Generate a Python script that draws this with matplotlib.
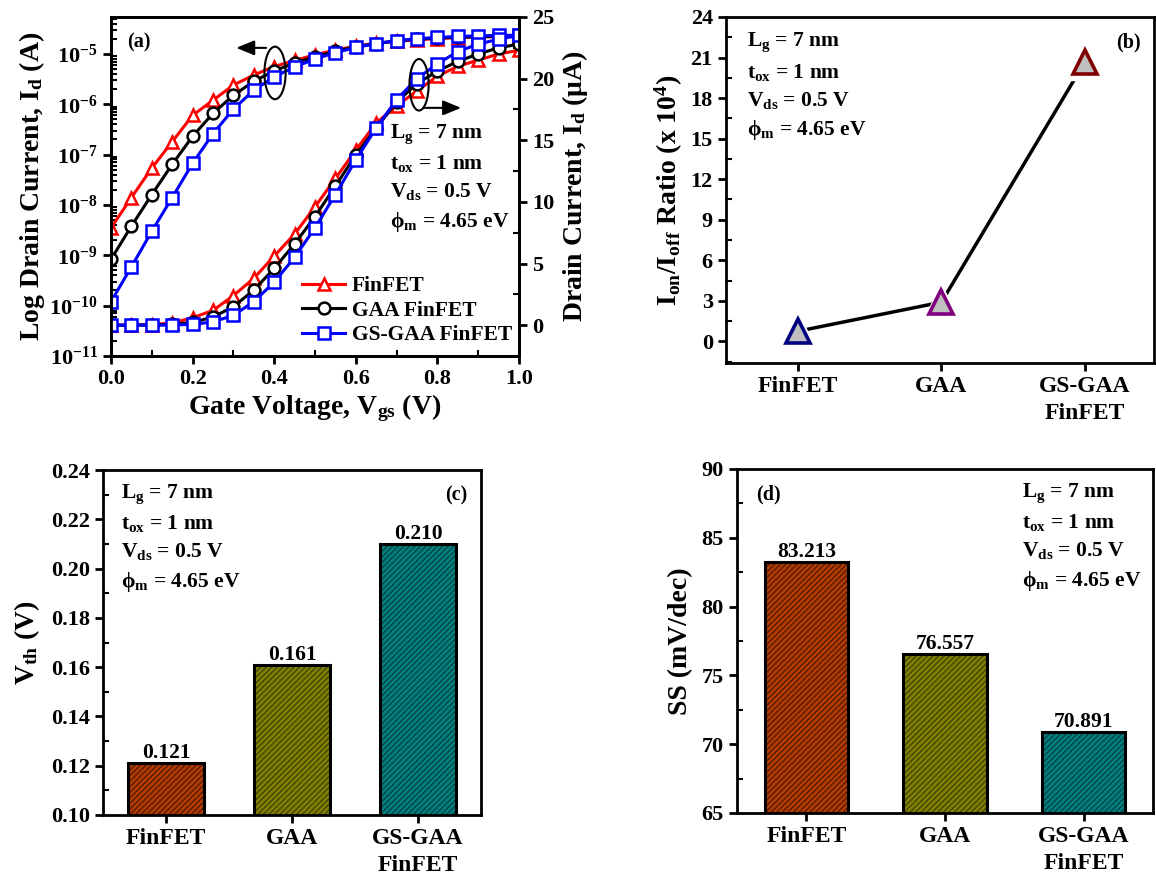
import numpy as np
import matplotlib
matplotlib.use("Agg")
import matplotlib.pyplot as plt
from matplotlib.patches import Ellipse
from matplotlib.ticker import MultipleLocator, LogLocator, NullFormatter, FormatStrFormatter

plt.rcParams['font.family'] = ['Liberation Serif', 'DejaVu Serif']
plt.rcParams['font.weight'] = 'bold'
plt.rcParams['axes.labelweight'] = 'bold'
plt.rcParams['mathtext.fontset'] = 'custom'
plt.rcParams['mathtext.rm'] = 'Liberation Serif:bold'
plt.rcParams['mathtext.bf'] = 'Liberation Serif:bold'
plt.rcParams['mathtext.it'] = 'Liberation Serif:bold:italic'
plt.rcParams['mathtext.default'] = 'regular'
plt.rcParams['hatch.linewidth'] = 0.9

# ---- data ----
vgs = [0.00, 0.05, 0.10, 0.15, 0.20, 0.25, 0.30, 0.35, 0.40, 0.45, 0.50,
       0.55, 0.60, 0.65, 0.70, 0.75, 0.80, 0.85, 0.90, 0.95, 1.00]
id_finfet = [3.5e-9, 1.4e-8, 5.4e-8, 1.8e-7, 6.0e-7, 1.2e-6, 2.4e-6, 3.8e-6, 5.6e-6, 7.4e-6, 9.6e-6,
             1.19e-5, 1.42e-5, 1.64e-5, 1.78e-5, 1.90e-5, 2.02e-5, 2.10e-5, 2.15e-5, 2.20e-5, 2.23e-5]
id_gaa = [8.3e-10, 3.8e-9, 1.6e-8, 6.4e-8, 2.3e-7, 6.6e-7, 1.5e-6, 2.85e-6, 4.6e-6, 6.6e-6, 8.8e-6,
          1.13e-5, 1.38e-5, 1.60e-5, 1.81e-5, 1.96e-5, 2.06e-5, 2.14e-5, 2.20e-5, 2.25e-5, 2.28e-5]
id_gsgaa = [1.2e-10, 5.9e-10, 3.0e-9, 1.4e-8, 6.7e-8, 2.6e-7, 8.0e-7, 1.9e-6, 3.5e-6, 5.5e-6, 7.9e-6,
            1.06e-5, 1.34e-5, 1.60e-5, 1.83e-5, 2.00e-5, 2.12e-5, 2.22e-5, 2.28e-5, 2.32e-5, 2.35e-5]

devices = ['FinFET', 'GAA', 'GS-GAA\nFinFET']
ion_ioff = [0.75, 2.9, 20.7]      # x 10^4
vth = [0.121, 0.161, 0.210]       # V
ss = [83.213, 76.557, 70.891]     # mV/dec

params = ('L$_{g}$ = 7 nm\nt$_{ox}$ = 1 nm\nV$_{ds}$ = 0.5 V\nϕ$_{m}$ = 4.65 eV')

fig = plt.figure(figsize=(11.56, 8.91), dpi=100)

def rect(l, t, r, b):
    return [l / 1156, 1 - b / 891, (r - l) / 1156, (b - t) / 891]

def style(ax):
    for s in ax.spines.values():
        s.set_linewidth(2)
    ax.tick_params(which='major', direction='out', length=6, width=2, labelsize=16)
    ax.tick_params(which='minor', direction='in', length=4, width=1.5)

# ---- (a) ----
ax = fig.add_axes(rect(111, 17, 519, 356))
ax2 = ax.twinx()
series = [(id_finfet, 'r', '^', 'FinFET'),
          (id_gaa, 'k', 'o', 'GAA FinFET'),
          (id_gsgaa, 'b', 's', 'GS-GAA FinFET')]
handles = []
for y, c, m, lab in series:
    h, = ax.plot(vgs, y, color=c, marker=m, ms=8.5, mfc='white', mew=1.8, lw=2.2, label=lab)
    handles.append(h)
    ax2.plot(vgs, np.array(y) * 1e6, color=c, marker=m, ms=8.5, mfc='white', mew=1.8, lw=2.2)
ax.set_yscale('log')
ax.set_ylim(1e-11, 5.4e-5)
ax.set_xlim(0, 1)
ax2.set_ylim(-2.5, 25)
ax.yaxis.set_major_locator(LogLocator(base=10, numticks=20))
ax.yaxis.set_minor_locator(LogLocator(base=10, subs=np.arange(2, 10), numticks=20))
ax.yaxis.set_minor_formatter(NullFormatter())
ax.xaxis.set_major_locator(MultipleLocator(0.2))
ax.xaxis.set_minor_locator(MultipleLocator(0.1))
ax2.yaxis.set_major_locator(MultipleLocator(5))
ax2.yaxis.set_minor_locator(MultipleLocator(2.5))
style(ax)
style(ax2)
ax.set_xlabel('Gate Voltage, V$_{gs}$ (V)', fontsize=20, labelpad=2)
ax.set_ylabel('Log Drain Current, I$_{d}$ (A)', fontsize=20, labelpad=2)
ax2.set_ylabel('Drain Current, I$_{d}$ (μA)', fontsize=20, labelpad=4)
ax.text(0.04, 0.955, '(a)', transform=ax.transAxes, fontsize=14.5, va='top')
ax.text(0.685, 0.69, params, transform=ax.transAxes, fontsize=15.5, va='top', linespacing=1.45)
ax2.legend(handles=handles, loc='lower right', bbox_to_anchor=(1.03, -0.025), frameon=False,
           fontsize=15.5, handlelength=2.0, handletextpad=0.3, labelspacing=0.2)
ax2.add_patch(Ellipse((0.402, 0.835), 0.052, 0.155, transform=ax.transAxes,
                      fill=False, ec='k', lw=1.5, zorder=5))
ax2.annotate('', xy=(0.30, 0.909), xytext=(0.387, 0.909), xycoords='axes fraction',
             arrowprops=dict(arrowstyle='-|>,head_length=1.1,head_width=0.45', color='k', lw=1.5))
ax2.add_patch(Ellipse((0.755, 0.80), 0.047, 0.152, transform=ax.transAxes,
                      fill=False, ec='k', lw=1.5, zorder=5))
ax2.annotate('', xy=(0.865, 0.732), xytext=(0.76, 0.732), xycoords='axes fraction',
             arrowprops=dict(arrowstyle='-|>,head_length=1.1,head_width=0.45', color='k', lw=1.5))

# ---- (b) ----
axb = fig.add_axes(rect(726, 17, 1154, 363))
xb = np.arange(len(devices))
edge_b = ['#000080', '#800080', '#800000']
axb.plot(xb, ion_ioff, color='k', lw=2.5, zorder=2)
for xi, yi, ec in zip(xb, ion_ioff, edge_b):
    axb.plot(xi, yi, marker='^', ms=26, color='white', mec='white', zorder=3)
    axb.plot(xi, yi, marker='^', ms=17, mfc='#C0C0C0', mec=ec, mew=2.6, zorder=4)
axb.set_xlim(-0.5, 2.48)
axb.set_ylim(-1.6, 24)
axb.set_xticks(xb)
axb.set_xticklabels(devices, linespacing=1.35)
axb.yaxis.set_major_locator(MultipleLocator(3))
axb.yaxis.set_minor_locator(MultipleLocator(1.5))
style(axb)
axb.tick_params(axis='x', labelsize=17)
axb.set_ylabel('I$_{on}$/I$_{off}$ Ratio (x 10$^{4}$)', fontsize=20, labelpad=4)
axb.text(0.05, 0.96, params, transform=axb.transAxes, fontsize=15.5, va='top', linespacing=1.45)
axb.text(0.97, 0.955, '(b)', transform=axb.transAxes, fontsize=14.5, va='top', ha='right')

# ---- (c), (d) ----
faces = ['#B23C00', '#808000', '#008080']
hatch_cols = ['#501800', '#404000', '#004040']

def bars(axx, vals, ylim, major, minor, ylabel, tag, tag_pos, text_pos):
    xs = np.arange(len(devices))
    axx.bar(xs, vals, width=0.6, color=faces, edgecolor=hatch_cols, hatch='//////', lw=0, zorder=2)
    axx.bar(xs, vals, width=0.6, fill=False, edgecolor='k', lw=2.2, zorder=3)
    for xi, v in zip(xs, vals):
        axx.text(xi, v, f'{v:.3f}', ha='center', va='bottom', fontsize=15.5)
    axx.set_xlim(-0.5, 2.5)
    axx.set_ylim(*ylim)
    axx.set_xticks(xs)
    axx.set_xticklabels(devices, linespacing=1.35)
    axx.yaxis.set_major_locator(MultipleLocator(major))
    axx.yaxis.set_minor_locator(MultipleLocator(minor))
    style(axx)
    axx.tick_params(axis='x', labelsize=17)
    axx.set_ylabel(ylabel, fontsize=20, labelpad=6)
    axx.text(tag_pos[0], tag_pos[1], tag, transform=axx.transAxes, fontsize=14.5, va='top',
             ha='right' if tag_pos[0] > 0.5 else 'left')
    axx.text(text_pos[0], text_pos[1], params, transform=axx.transAxes, fontsize=15.5, va='top',
             linespacing=1.45)

axc = fig.add_axes(rect(103, 470, 481, 815))
bars(axc, vth, (0.10, 0.24), 0.02, 0.01, 'V$_{th}$ (V)', '(c)', (0.965, 0.955), (0.048, 0.965))
axc.yaxis.set_major_formatter(FormatStrFormatter('%.2f'))

axd = fig.add_axes(rect(737, 469, 1153, 813))
bars(axd, ss, (65, 90), 5, 2.5, 'SS (mV/dec)', '(d)', (0.045, 0.955), (0.685, 0.965))

fig.savefig('out.png', dpi=100)
